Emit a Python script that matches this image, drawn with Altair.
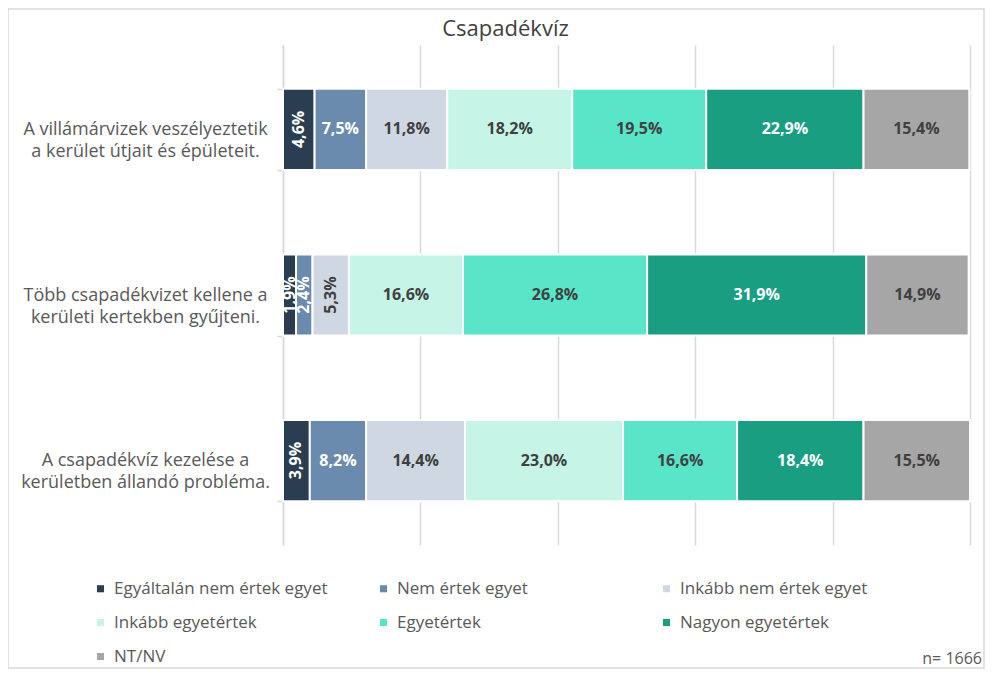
import altair as alt
import pandas as pd

title_text = "Csapadékvíz"
n_label = "n= 1666"

categories = [
    "A villámárvizek veszélyeztetik\na kerület útjait és épületeit.",
    "Több csapadékvizet kellene a\nkerületi kertekben gyűjteni.",
    "A csapadékvíz kezelése a\nkerületben állandó probléma.",
]
series = [
    "Egyáltalán nem értek egyet",
    "Nem értek egyet",
    "Inkább nem értek egyet",
    "Inkább egyetértek",
    "Egyetértek",
    "Nagyon egyetértek",
    "NT/NV",
]
colors = ["#2B3D50", "#6A8AAE", "#CFD8E2", "#C6F5E8", "#58E5C8", "#1A9E82", "#A6A6A6"]

values_row1 = [4.6, 7.5, 11.8, 18.2, 19.5, 22.9, 15.4]
values_row2 = [1.9, 2.4, 5.3, 16.6, 26.8, 31.9, 14.9]
values_row3 = [3.9, 8.2, 14.4, 23.0, 16.6, 18.4, 15.5]
all_values = [values_row1, values_row2, values_row3]
white_label_series = [series[0], series[1], series[5]]

rows = []
for cat, vals in zip(categories, all_values):
    start = 0.0
    for i, (s, v) in enumerate(zip(series, vals)):
        rows.append({
            "cat": cat, "series": s, "order": i, "value": v,
            "start": start, "end": start + v, "mid": start + v / 2,
            "label": f"{v:.1f}".replace(".", ",") + "%",
            "white": s in white_label_series,
        })
        start += v
df = pd.DataFrame(rows)

yenc = alt.Y(
    "cat:N", sort=categories,
    scale=alt.Scale(paddingInner=0.51, paddingOuter=0.265),
    axis=alt.Axis(
        title=None, labelExpr="split(datum.label, '\\n')",
        domain=True, domainColor="#D9D9D9", domainWidth=1.5,
        ticks=True, tickColor="#D9D9D9", tickBand="extent", tickSize=6, tickWidth=1.5,
        labelAlign="center", labelBaseline="middle", labelPadding=132,
        labelFontSize=18, labelColor="#595959", labelFont="Open Sans",
        labelLineHeight=22, labelLimit=300, grid=False,
    ),
)

base = alt.Chart(df)

bars = base.mark_bar(stroke="white", strokeWidth=2).encode(
    x=alt.X("start:Q", scale=alt.Scale(domain=[0, 100], nice=False),
            axis=alt.Axis(title=None, labels=False, ticks=False, domain=False,
                          grid=True, gridColor="#D9D9D9", gridWidth=1.5,
                          values=[0, 20, 40, 60, 80, 100])),
    x2="end:Q",
    y=yenc,
    color=alt.Color("series:N", scale=alt.Scale(domain=series, range=colors),
                    legend=alt.Legend(
                        title=None, orient="none", legendX=-191, legendY=535,
                        direction="horizontal",
                        columns=3, gridAlign="all", columnPadding=47, rowPadding=16,
                        symbolType="square", symbolSize=50, symbolStrokeWidth=0,
                        labelFontSize=17, labelColor="#595959", labelFont="Open Sans",
                        labelOffset=5, padding=0, labelLimit=400,
                    )),
)

text_color = alt.when(alt.datum.white).then(alt.value("white")).otherwise(alt.value("#404040"))

text_h = base.transform_filter("datum.value >= 6").mark_text(
    fontSize=16, fontWeight="bold", font="Open Sans"
).encode(
    x="mid:Q", y=alt.Y("cat:N", sort=categories), text="label:N", color=text_color,
)

text_v = base.transform_filter("datum.value < 6").mark_text(
    fontSize=16, fontWeight="bold", font="Open Sans", angle=270
).encode(
    x="mid:Q", y=alt.Y("cat:N", sort=categories), text="label:N", color=text_color,
)

border = alt.Chart(alt.Data(values=[{}])).mark_rect(
    fill="transparent", stroke="#D9D9D9", strokeWidth=1.5
).encode(
    x=alt.value(-275), x2=alt.value(701), y=alt.value(-36), y2=alt.value(623)
)

n_text = alt.Chart(alt.Data(values=[{"t": n_label}])).mark_text(
    align="right", fontSize=16, color="#595959", font="Open Sans"
).encode(x=alt.value(699), y=alt.value(614), text="t:N")

chart = alt.layer(border, bars, text_h, text_v, n_text).properties(
    width=687, height=500,
    title=alt.TitleParams(title_text, fontSize=22, font="Open Sans", fontWeight="normal",
                          color="#404040", anchor="middle", frame="group", dx=-121,
                          offset=-33),
    autosize=alt.AutoSizeParams(type="none"),
    padding={"left": 275, "top": 37, "right": 15, "bottom": 124},
).configure_view(strokeWidth=0)

chart.save("out.html", embed_options={"renderer": "svg", "actions": False})
